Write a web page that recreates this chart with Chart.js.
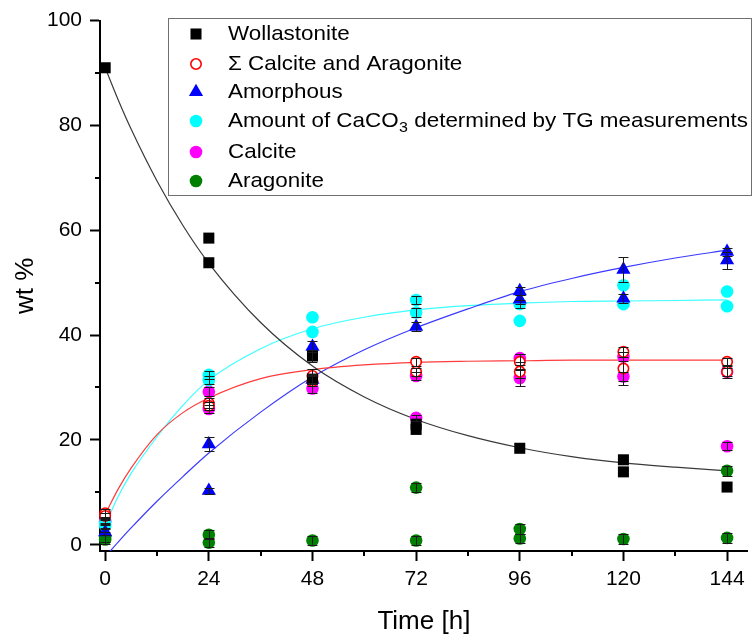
<!DOCTYPE html>
<html>
<head>
<meta charset="utf-8">
<script src="https://cdn.jsdelivr.net/npm/chart.js@4/dist/chart.umd.min.js"></script>
<style>
html,body{margin:0;padding:0;background:#fff;}
canvas{display:block;}
</style>
</head>
<body>
<canvas id="c" width="756" height="637"></canvas>
<script>
// ---------- data ----------
const xTicks = [0, 24, 48, 72, 96, 120, 144];
const yTicks = [0, 20, 40, 60, 80, 100];

const wollLabel = "Wollastonite";
const wollX   = [0, 24, 24, 48, 48, 72, 72, 96, 120, 120, 144];
const wollY   = [91.0, 58.5, 53.8, 36.0, 31.6, 23.0, 22.0, 18.4, 16.2, 13.9, 11.0];
const wollErr = [0, 0, 0, 1.2, 1.0, 0, 0, 0, 0, 0, 0];

const sumLabel = "Σ Calcite and Aragonite";
const sumX   = [0, 0, 24, 24, 48, 48, 72, 72, 96, 96, 120, 120, 144, 144];
const sumY   = [6.0, 5.5, 27.0, 26.5, 32.2, 31.2, 34.9, 33.0, 34.9, 33.0, 36.8, 33.6, 34.9, 33.0];
const sumErr = [0.8, 0.6, 1.0, 0.8, 1.4, 1.0, 0.8, 0.8, 1.4, 1.2, 1.0, 3.2, 0.8, 1.2];

const amLabel = "Amorphous";
const amX   = [0, 24, 24, 48, 48, 72, 96, 96, 120, 120, 144, 144];
const amY   = [2.4, 19.2, 10.3, 37.8, 31.5, 41.6, 48.4, 46.8, 52.5, 47.0, 55.9, 54.3];
const amErr = [0.6, 1.3, 0.6, 1.0, 0.8, 0.9, 0.8, 0.8, 2.4, 0.8, 0.8, 1.6];

const tgLabel = "Amount of CaCO₃ determined by TG measurements";
const tgX   = [0, 0, 24, 24, 48, 48, 72, 72, 96, 96, 120, 120, 144, 144];
const tgY   = [4.2, 3.6, 32.4, 31.4, 43.4, 40.6, 46.7, 44.3, 45.9, 42.7, 49.5, 45.9, 48.3, 45.5];
const tgErr = [0.5, 0.5, 0.8, 0.8, 0, 0, 0.8, 0.8, 0.8, 0, 0, 0, 0, 0];

const calLabel = "Calcite";
const calX   = [0, 24, 24, 48, 72, 72, 96, 96, 120, 120, 144, 144];
const calY   = [4.5, 29.2, 25.9, 29.8, 32.2, 24.2, 35.6, 31.8, 35.9, 32.1, 33.0, 18.8];
const calErr = [0.6, 0.8, 0.8, 0.8, 0.8, 0.6, 0.8, 1.6, 0.8, 0.8, 0.8, 0.8];

const arLabel = "Aragonite";
const arX   = [0, 0, 24, 24, 48, 72, 72, 96, 96, 120, 144, 144];
const arY   = [1.5, 1.0, 1.9, 0.4, 0.8, 10.9, 0.8, 3.0, 1.2, 1.1, 14.1, 1.3];
const arErr = [0.9, 0.9, 0.9, 0.9, 0.9, 0.9, 0.9, 0.9, 0.9, 0.9, 0.9, 0.9];

// fitted curves
const fitX    = [0, 3, 6, 12, 18, 24, 36, 48, 60, 72, 84, 96, 108, 120, 132, 144];
const wollFit = [91.0, 84.9, 79.3, 69.4, 60.9, 53.7, 42.4, 34.1, 28.2, 23.9, 20.8, 18.5, 16.8, 15.6, 14.8, 14.1];
const sumFit  = [5.8, 10.6, 14.6, 21.0, 25.2, 28.0, 31.7, 33.4, 34.3, 34.8, 35.0, 35.1, 35.2, 35.2, 35.2, 35.2];
const amFit   = [-2.3, 0.5, 3.2, 8.3, 13.0, 17.5, 25.3, 32.0, 37.2, 41.4, 45.0, 48.3, 50.8, 52.9, 54.7, 56.2];
const tgFit   = [3.8, 9.2, 13.6, 20.6, 26.6, 31.4, 37.4, 41.2, 43.4, 44.8, 45.6, 46.1, 46.4, 46.5, 46.6, 46.7];

// ---------- helpers ----------
const FONT = "'Liberation Sans', Arial, Helvetica, sans-serif";
Chart.defaults.font.family = FONT;
Chart.defaults.color = '#000';

const pts = (xs, ys) => xs.map((x, i) => ({ x: x, y: ys[i] }));

function scatterSet(label, xs, ys, errs, style) {
  return Object.assign({
    label: label, data: pts(xs, ys), errors: errs, showLine: false,
    clip: false, isMarker: true
  }, style);
}
function fitSet(xs, ys, color) {
  return {
    label: '', data: pts(xs, ys), showLine: true, pointRadius: 0,
    borderColor: color, borderWidth: 1.2, backgroundColor: color,
    cubicInterpolationMode: 'monotone', fill: false, isMarker: false
  };
}

function drawMarker(ctx, style, x, y, r, fill, stroke, bw) {
  ctx.beginPath();
  if (style === 'rect') {
    const s = r * Math.SQRT1_2;
    ctx.rect(x - s, y - s, 2 * s, 2 * s);
  } else if (style === 'triangle') {
    const a = 2 * Math.PI / 3;
    ctx.moveTo(x, y - r);
    ctx.lineTo(x + Math.sin(a) * r, y - Math.cos(a) * r);
    ctx.lineTo(x + Math.sin(2 * a) * r, y - Math.cos(2 * a) * r);
    ctx.closePath();
  } else {
    ctx.arc(x, y, r, 0, 2 * Math.PI);
  }
  ctx.fillStyle = fill;
  ctx.fill();
  if (bw > 0) { ctx.lineWidth = bw; ctx.strokeStyle = stroke; ctx.stroke(); }
}

// ---------- plugins ----------
const errorBars = {
  id: 'errorBars',
  afterDatasetsDraw(chart) {
    const ctx = chart.ctx, xs = chart.scales.x, ys = chart.scales.y;
    ctx.save();
    ctx.strokeStyle = '#1a1a1a';
    ctx.lineWidth = 1;
    chart.data.datasets.forEach(ds => {
      if (!ds.errors) return;
      ds.data.forEach((p, i) => {
        const e = ds.errors[i];
        if (!e) return;
        const px = Math.round(xs.getPixelForValue(p.x)) + 0.5;
        const y1 = Math.round(ys.getPixelForValue(p.y - e)) + 0.5;
        const y2 = Math.round(ys.getPixelForValue(p.y + e)) + 0.5;
        ctx.beginPath();
        ctx.moveTo(px, y1); ctx.lineTo(px, y2);
        ctx.moveTo(px - 5, y1); ctx.lineTo(px + 5, y1);
        ctx.moveTo(px - 5, y2); ctx.lineTo(px + 5, y2);
        ctx.stroke();
      });
    });
    ctx.restore();
  }
};

const minorTicks = {
  id: 'minorTicks',
  afterDraw(chart) {
    const ctx = chart.ctx, xs = chart.scales.x, ys = chart.scales.y, a = chart.chartArea;
    ctx.save();
    ctx.strokeStyle = '#000';
    ctx.lineWidth = 2;
    ctx.beginPath();
    for (let i = 0; i < xTicks.length - 1; i++) {
      const px = Math.round(xs.getPixelForValue((xTicks[i] + xTicks[i + 1]) / 2));
      ctx.moveTo(px, a.bottom); ctx.lineTo(px, a.bottom + 5);
    }
    for (let i = 0; i < yTicks.length - 1; i++) {
      const py = Math.round(ys.getPixelForValue((yTicks[i] + yTicks[i + 1]) / 2));
      ctx.moveTo(a.left, py); ctx.lineTo(a.left - 5, py);
    }
    ctx.stroke();
    ctx.restore();
  }
};

function stretchedText(ctx, text, x, y, sx) {
  ctx.save();
  ctx.translate(x, y);
  ctx.scale(sx, 1);
  ctx.fillText(text, 0, 0);
  const w = ctx.measureText(text).width * sx;
  ctx.restore();
  return w;
}

const boxLegend = {
  id: 'boxLegend',
  afterDraw(chart) {
    const ctx = chart.ctx;
    ctx.save();
    const bx = 168.5, by = 18.5, bw = 583, bh = 177;
    ctx.fillStyle = '#fff';
    ctx.fillRect(bx, by, bw, bh);
    ctx.strokeStyle = '#707070';
    ctx.lineWidth = 1;
    ctx.strokeRect(bx, by, bw, bh);
    const rows = [34, 64, 92, 121, 152, 181];
    const SX = 1.067;
    const markers = chart.data.datasets.filter(d => d.isMarker);
    markers.forEach((ds, i) => {
      const y = rows[i];
      drawMarker(ctx, ds.pointStyle, 196, y, ds.pointRadius, ds.backgroundColor, ds.borderColor, ds.borderWidth);
      ctx.fillStyle = '#000';
      ctx.textBaseline = 'middle';
      ctx.textAlign = 'left';
      ctx.font = '21px ' + FONT;
      const parts = ds.label.split('₃');
      let x = 228;
      if (parts.length === 2) {
        x += stretchedText(ctx, parts[0], x, y, SX);
        ctx.font = '15px ' + FONT;
        x += stretchedText(ctx, '3', x + 0.5, y + 7, SX) + 0.5;
        ctx.font = '21px ' + FONT;
        stretchedText(ctx, parts[1], x, y, SX);
      } else {
        stretchedText(ctx, ds.label, x, y, SX);
      }
    });
    ctx.restore();
  }
};

// ---------- chart ----------
const axisCommon = {
  grid: { drawOnChartArea: false, drawTicks: true, tickLength: 10, tickWidth: 2, tickColor: '#000' },
  border: { display: true, color: '#000', width: 2 }
};

new Chart(document.getElementById('c'), {
  type: 'scatter',
  data: {
    datasets: [
      scatterSet(wollLabel, wollX, wollY, wollErr,
        { pointStyle: 'rect', pointRadius: 7.8, backgroundColor: '#000000', borderColor: '#000000', borderWidth: 0 }),
      scatterSet(sumLabel, sumX, sumY, sumErr,
        { pointStyle: 'circle', pointRadius: 5.2, backgroundColor: '#ffffff', borderColor: '#ff0000', borderWidth: 1.6 }),
      scatterSet(amLabel, amX, amY, amErr,
        { pointStyle: 'triangle', pointRadius: 8.2, backgroundColor: '#0000ff', borderColor: '#0000ff', borderWidth: 0 }),
      scatterSet(tgLabel, tgX, tgY, tgErr,
        { pointStyle: 'circle', pointRadius: 6.3, backgroundColor: '#00ffff', borderColor: '#00ffff', borderWidth: 0 }),
      scatterSet(calLabel, calX, calY, calErr,
        { pointStyle: 'circle', pointRadius: 6.3, backgroundColor: '#ff00ff', borderColor: '#ff00ff', borderWidth: 0 }),
      scatterSet(arLabel, arX, arY, arErr,
        { pointStyle: 'circle', pointRadius: 6.3, backgroundColor: '#008000', borderColor: '#008000', borderWidth: 0 }),
      fitSet(fitX, wollFit, '#3a3a3a'),
      fitSet(fitX, sumFit, '#ff3b3b'),
      fitSet(fitX, amFit, '#3b3bff'),
      fitSet(fitX, tgFit, '#3bffff')
    ]
  },
  options: {
    responsive: false,
    animation: false,
    events: [],
    layout: { padding: { top: 20, right: 1, left: 0, bottom: 0 } },
    plugins: { legend: { display: false }, tooltip: { enabled: false } },
    scales: {
      x: Object.assign({}, axisCommon, {
        type: 'linear', min: -1.2, max: 148.8,
        afterBuildTicks: s => { s.ticks = xTicks.map(v => ({ value: v })); },
        afterFit: s => { s.height = 86; },
        ticks: { font: { size: 21 }, color: '#000', padding: 6, maxRotation: 0, autoSkip: false },
        title: { display: true, text: 'Time [h]', font: { size: 26 }, color: '#000', padding: { top: 0, bottom: 0 } }
      }),
      y: Object.assign({}, axisCommon, {
        type: 'linear', min: -1.2, max: 100,
        afterBuildTicks: s => { s.ticks = yTicks.map(v => ({ value: v })); },
        afterFit: s => { s.width = 100; },
        ticks: { font: { size: 21 }, color: '#000', padding: 8 },
        title: { display: true, text: 'wt %', font: { size: 26 }, color: '#000', padding: { top: 10, bottom: 0 } }
      })
    }
  },
  plugins: [errorBars, minorTicks, boxLegend]
});
</script>
</body>
</html>
